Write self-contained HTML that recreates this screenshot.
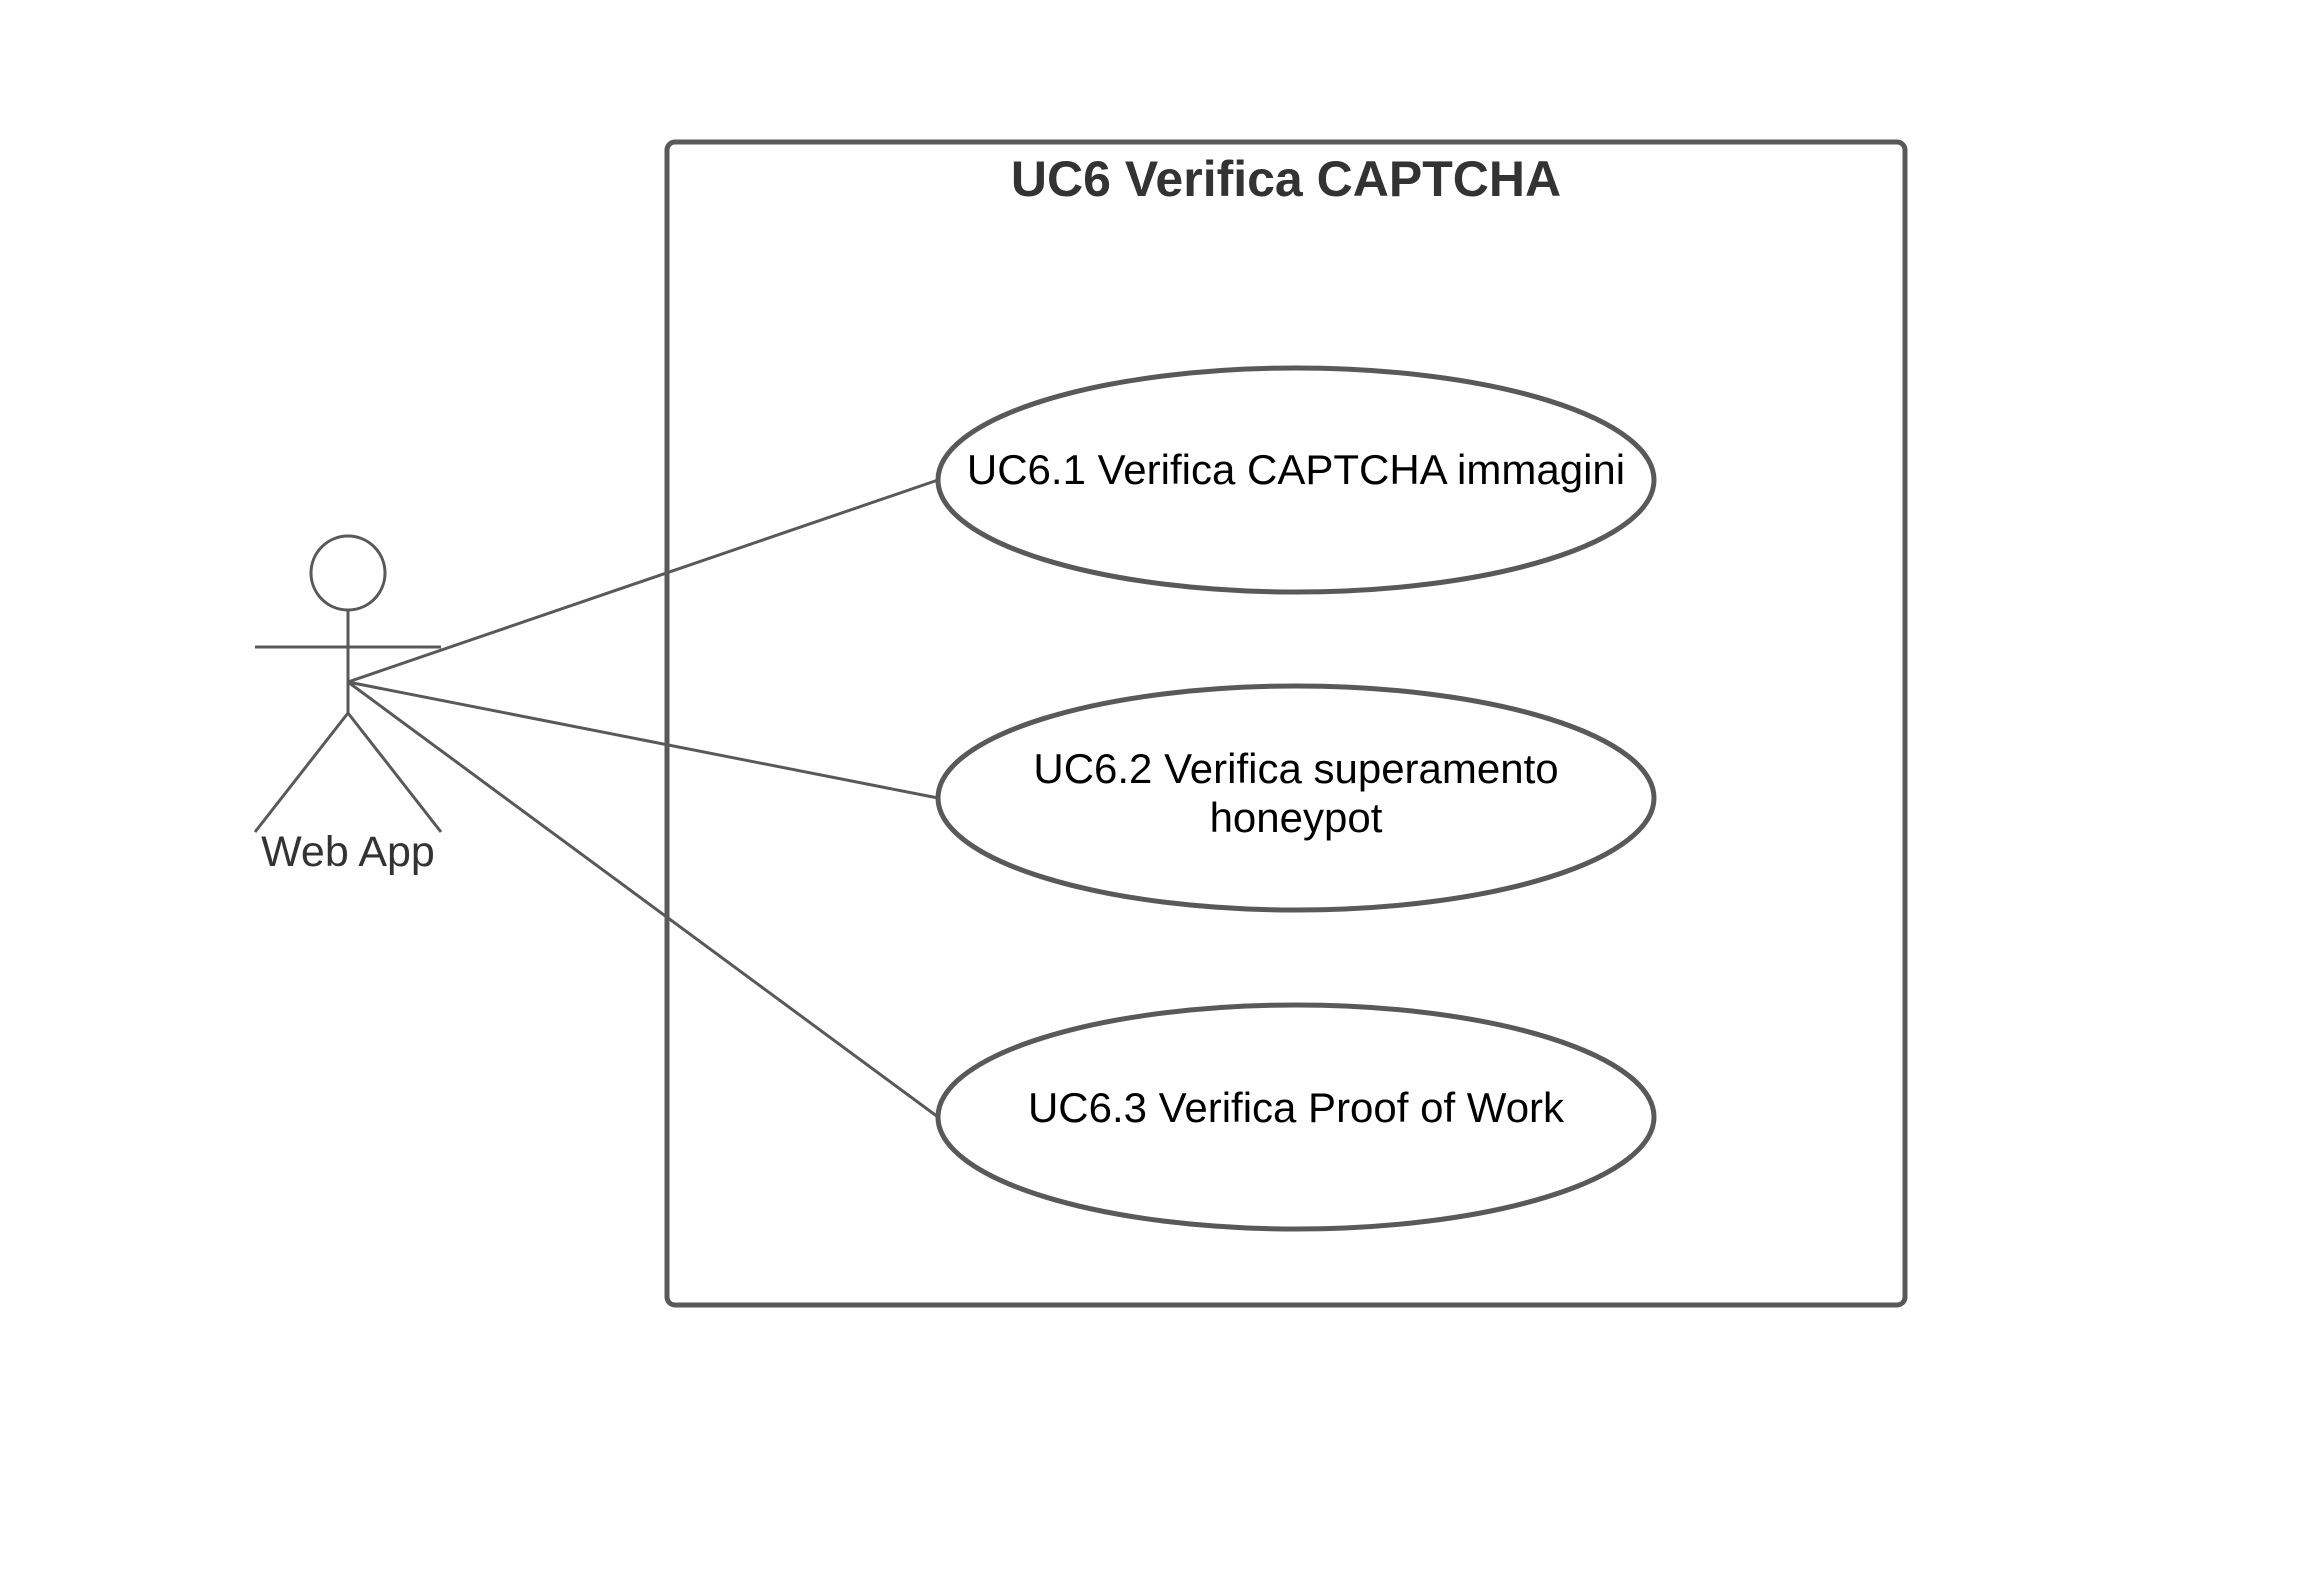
<!DOCTYPE html>
<html><head><meta charset="utf-8"><style>
html,body{margin:0;padding:0;background:#fff;}
svg{display:block;}
</style></head><body>
<svg width="2319" height="1571" viewBox="0 0 2319 1571" xmlns="http://www.w3.org/2000/svg">
<rect width="2319" height="1571" fill="#fff"/>
<rect x="667" y="142" width="1238" height="1163" rx="8" fill="none" stroke="#595959" stroke-width="5"/>
<text x="1286" y="196" text-anchor="middle" font-family="Liberation Sans, sans-serif" font-weight="bold" font-size="50" fill="#333">UC6 Verifica CAPTCHA</text>
<g stroke="#595959" stroke-width="3" fill="none">
<line x1="348" y1="682" x2="938" y2="480"/>
<line x1="348" y1="682" x2="938" y2="798"/>
<line x1="348" y1="682" x2="938" y2="1117"/>
</g>
<g stroke="#595959" stroke-width="5" fill="#fff">
<ellipse cx="1296" cy="480" rx="358" ry="112"/>
<ellipse cx="1296" cy="798" rx="358" ry="112"/>
<ellipse cx="1296" cy="1117" rx="358" ry="112"/>
</g>
<g font-family="Liberation Sans, sans-serif" font-size="42" fill="#000" text-anchor="middle">
<text x="1296" y="484">UC6.1 Verifica CAPTCHA immagini</text>
<text x="1296" y="783">UC6.2 Verifica superamento</text>
<text x="1296" y="832">honeypot</text>
<text x="1296" y="1122">UC6.3 Verifica Proof of Work</text>
</g>
<g stroke="#595959" stroke-width="3" fill="none">
<circle cx="348" cy="573" r="37" fill="#fff"/>
<line x1="348" y1="610" x2="348" y2="713"/>
<line x1="255" y1="647" x2="441" y2="647"/>
<line x1="348" y1="713" x2="255" y2="832"/>
<line x1="348" y1="713" x2="441" y2="832"/>
</g>
<text x="348" y="866" text-anchor="middle" font-family="Liberation Sans, sans-serif" font-size="43" fill="#333">Web App</text>
</svg>
</body></html>
